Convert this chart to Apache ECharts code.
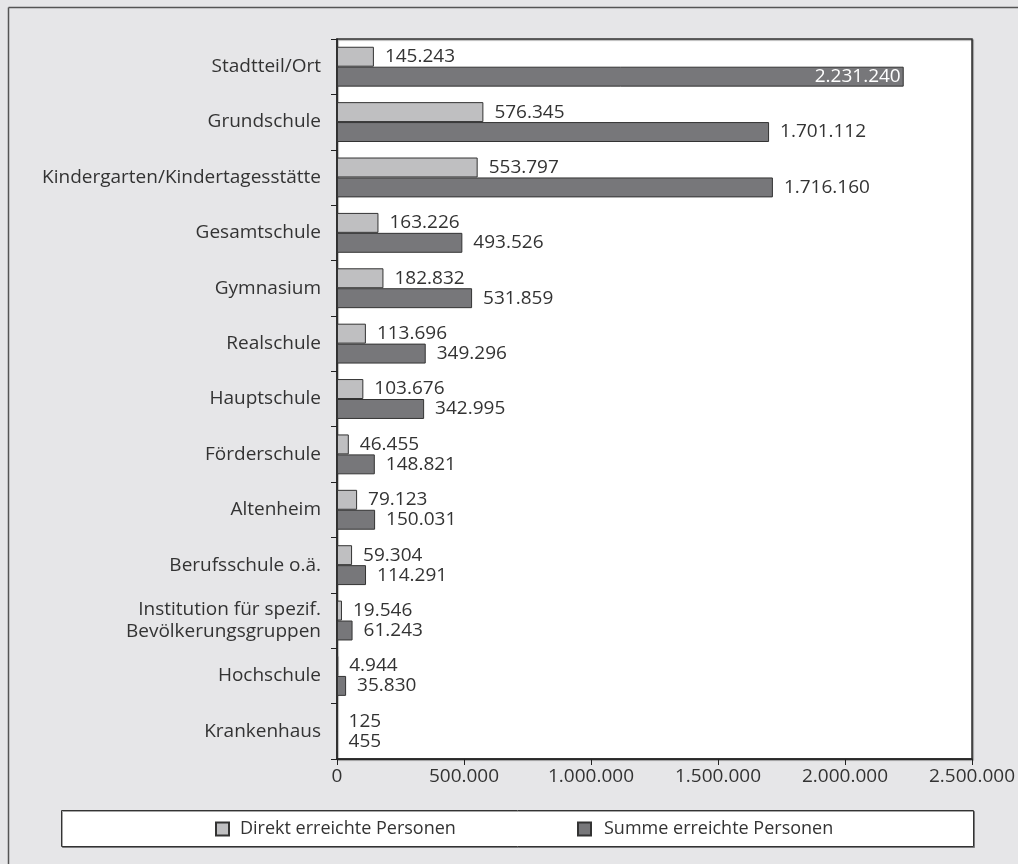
<!DOCTYPE html>
<html>
<head>
<meta charset="utf-8">
<script src="https://cdn.jsdelivr.net/npm/echarts@6/dist/echarts.min.js"></script>
<style>
  html, body { margin: 0; padding: 0; background: #ffffff; }
  #chart { width: 1018px; height: 864px; }
</style>
</head>
<body>
<div id="chart"></div>
<script>
// Einrichtungen (von oben nach unten)
const categories = [
  'Stadtteil/Ort',
  'Grundschule',
  'Kindergarten/Kindertagesstätte',
  'Gesamtschule',
  'Gymnasium',
  'Realschule',
  'Hauptschule',
  'Förderschule',
  'Altenheim',
  'Berufsschule o.ä.',
  'Institution für spezif.\nBevölkerungsgruppen',
  'Hochschule',
  'Krankenhaus'
];
const seriesNames = ['Direkt erreichte Personen', 'Summe erreichte Personen'];
const direkt = [145243, 576345, 553797, 163226, 182832, 113696, 103676, 46455, 79123, 59304, 19546, 4944, 125];
const summe = [2231240, 1701112, 1716160, 493526, 531859, 349296, 342995, 148821, 150031, 114291, 61243, 35830, 455];
const xTicks = { min: 0, max: 2500000, interval: 500000 };

const FONT = '"Open Sans", "Noto Sans", sans-serif';
const TEXT = '#333333';
const SIZE = 19;

// Zahlen mit Punkt als Tausendertrennzeichen
function fmt(v) {
  return String(Math.round(v)).replace(/\B(?=(\d{3})+(?!\d))/g, '.');
}

const chart = echarts.init(document.getElementById('chart'), null, { renderer: 'canvas' });

const labelBase = {
  show: true,
  position: 'right',
  distance: 11,
  color: TEXT,
  fontFamily: FONT,
  fontSize: SIZE,
  formatter: p => fmt(p.value)
};

// größter Wert: Beschriftung innen, weiß
const summeData = summe.map((v, i) => i === 0
  ? { value: v, label: { position: 'insideRight', color: '#ffffff', distance: 3 } }
  : v);

const legendBase = {
  icon: 'rect', itemWidth: 13, itemHeight: 13, itemGap: 0, padding: 0, top: 820
};

chart.setOption({
  animation: false,
  backgroundColor: '#e6e6e8',
  graphic: [
    // äußerer Rahmen
    { type: 'line', shape: { x1: 8.5, y1: 7.5, x2: 1018, y2: 7.5 }, style: { stroke: '#555', lineWidth: 1.5 } },
    { type: 'line', shape: { x1: 8.5, y1: 7.5, x2: 8.5, y2: 864 }, style: { stroke: '#555', lineWidth: 1.5 } },
    // Legendenkasten
    { type: 'rect', z: 0, shape: { x: 61.5, y: 810.5, width: 912, height: 36 },
      style: { fill: '#ffffff', stroke: '#333', lineWidth: 1, shadowColor: 'rgba(0,0,0,0.35)', shadowOffsetX: 1, shadowOffsetY: 1 } }
  ],
  legend: [
    Object.assign({}, legendBase, { data: [seriesNames[0]], left: 215,
      textStyle: { color: TEXT, fontFamily: FONT, fontSize: 18, padding: [0, 0, 0, 6] } }),
    Object.assign({}, legendBase, { data: [seriesNames[1]], left: 577,
      textStyle: { color: TEXT, fontFamily: FONT, fontSize: 18, padding: [0, 0, 0, 8] } })
  ],
  grid: {
    left: 337, right: 44, top: 39, bottom: 105,
    show: true, backgroundColor: '#ffffff', borderColor: '#333', borderWidth: 1.5,
    shadowColor: 'rgba(0,0,0,0.35)', shadowOffsetX: 1, shadowOffsetY: 1, shadowBlur: 1
  },
  xAxis: {
    type: 'value',
    min: xTicks.min, max: xTicks.max, interval: xTicks.interval,
    axisLine: { show: true, lineStyle: { color: '#222', width: 1.5 } },
    axisTick: { show: true, length: 6, lineStyle: { color: '#222' } },
    splitLine: { show: false },
    axisLabel: { color: TEXT, fontFamily: FONT, fontSize: SIZE, margin: 8, formatter: fmt }
  },
  yAxis: {
    type: 'category',
    inverse: true,
    data: categories,
    axisLine: { show: true, lineStyle: { color: '#222', width: 1.5 } },
    axisTick: { show: true, length: 6, lineStyle: { color: '#222' } },
    axisLabel: { color: TEXT, fontFamily: FONT, fontSize: SIZE, margin: 16, lineHeight: 22 }
  },
  series: [
    {
      name: seriesNames[0], type: 'bar', data: direkt,
      barGap: '0%', barCategoryGap: '28%',
      itemStyle: { color: '#bfbfc1', borderColor: '#333', borderWidth: 1 },
      label: labelBase
    },
    {
      name: seriesNames[1], type: 'bar', data: summeData,
      itemStyle: { color: '#77777a', borderColor: '#333', borderWidth: 1 },
      label: labelBase
    }
  ]
});
</script>
</body>
</html>
